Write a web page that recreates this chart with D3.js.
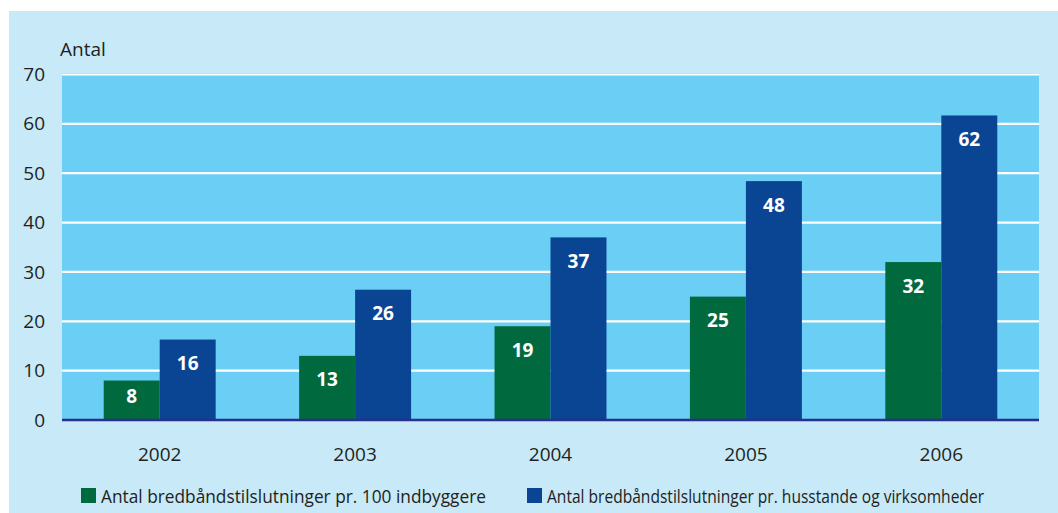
<!DOCTYPE html>
<html>
<head>
<meta charset="utf-8">
<script src="https://cdn.jsdelivr.net/npm/d3@7"></script>
<style>
  html, body { margin: 0; padding: 0; background: #ffffff; }
  svg { display: block; font-family: "Open Sans", "Noto Sans", sans-serif; }
</style>
</head>
<body>
<div id="chart"></div>
<script>
// data
let years = ["2002", "2003", "2004", "2005", "2006"];
let perInhabitants = [8, 13, 19, 25, 32];
let perHouseholds = [16.3, 26.4, 37, 48.4, 61.7];
let seriesNames = [
    "Antal bredbåndstilslutninger pr. 100 indbyggere",
    "Antal bredbåndstilslutninger pr. husstande og virksomheder"
];
let seriesColors = ["#006a3e", "#0a4593"];
let yTicks = [0, 10, 20, 30, 40, 50, 60, 70];

let width = 1058, height = 513;
let plot = { left: 62, right: 1039, top: 73, bottom: 420 };

let svg = d3.select("#chart").append("svg").attr("width", width).attr("height", height);

// light blue panel
svg.append("rect").attr("x", 9).attr("y", 11).attr("width", width - 9).attr("height", height - 11).attr("fill", "#c7e9f8");
// plot area
svg.append("rect").attr("x", plot.left).attr("y", plot.top).attr("width", plot.right - plot.left).attr("height", plot.bottom - plot.top).attr("fill", "#6bcff5");

let x0 = d3.scaleBand().domain(years).range([plot.left, plot.right]).paddingInner(0.427).paddingOuter(0.2135);
let x1 = d3.scaleBand().domain([0, 1]).range([0, x0.bandwidth()]);
let y = d3.scaleLinear().domain([0, 70]).range([plot.bottom, plot.top + 1.5]);

// gridlines
svg.append("g").selectAll("line").data(yTicks.filter(t => t > 0)).join("line")
    .attr("x1", plot.left).attr("x2", plot.right)
    .attr("y1", d => y(d)).attr("y2", d => y(d))
    .attr("stroke", "#ffffff").attr("stroke-width", 2.2);

// y axis labels
let yAxis = svg.append("g").attr("transform", "translate(45,0)")
    .call(d3.axisLeft(y).tickValues(yTicks).tickSize(0).tickPadding(0));
yAxis.select(".domain").remove();
yAxis.selectAll("text").attr("font-size", 19).attr("fill", "#231f20").attr("font-family", "'Open Sans', sans-serif");

svg.append("text").attr("x", 60).attr("y", 56).text("Antal")
    .attr("font-size", 19).attr("fill", "#231f20");

// bars
let rows = years.map((yr, i) => ({ year: yr, values: [perInhabitants[i], perHouseholds[i]] }));
let groups = svg.append("g").selectAll("g").data(rows).join("g")
    .attr("transform", d => "translate(" + x0(d.year) + ",0)");
groups.selectAll("rect").data(d => d.values.map((v, k) => ({ v: v, k: k }))).join("rect")
    .attr("x", d => x1(d.k)).attr("width", x1.bandwidth())
    .attr("y", d => y(d.v)).attr("height", d => y(0) - y(d.v))
    .attr("fill", d => seriesColors[d.k]);
groups.selectAll("text").data(d => d.values.map((v, k) => ({ v: v, k: k }))).join("text")
    .attr("x", d => x1(d.k) + x1.bandwidth() / 2)
    .attr("y", d => y(d.v) + Math.min(24, (y(0) - y(d.v)) / 2 - 4))
    .attr("dy", "0.35em").attr("text-anchor", "middle")
    .attr("fill", "#ffffff").attr("font-weight", "bold").attr("font-size", 19)
    .text(d => Math.round(d.v));

// x axis
svg.append("line").attr("x1", plot.left).attr("x2", plot.right).attr("y1", y(0)).attr("y2", y(0))
    .attr("stroke", "#2b2e8a").attr("stroke-width", 2.5);
let xAxis = svg.append("g").attr("transform", "translate(0," + (plot.bottom + 27) + ")")
    .call(d3.axisBottom(x0).tickSize(0).tickPadding(0));
xAxis.select(".domain").remove();
xAxis.selectAll("text").attr("font-size", 19).attr("fill", "#231f20").attr("font-family", "'Open Sans', sans-serif");

// legend
let legendX = [81, 527];
let legendLen = [385, 437];
let legend = svg.append("g").selectAll("g").data(seriesNames).join("g")
    .attr("transform", (d, i) => "translate(" + legendX[i] + ",488)");
legend.append("rect").attr("width", 15).attr("height", 15).attr("fill", (d, i) => seriesColors[i]);
legend.append("text").attr("x", 20).attr("y", 14.5).text(d => d)
    .attr("font-size", 18).attr("fill", "#231f20")
    .attr("textLength", (d, i) => legendLen[i]).attr("lengthAdjust", "spacingAndGlyphs");
</script>
</body>
</html>
